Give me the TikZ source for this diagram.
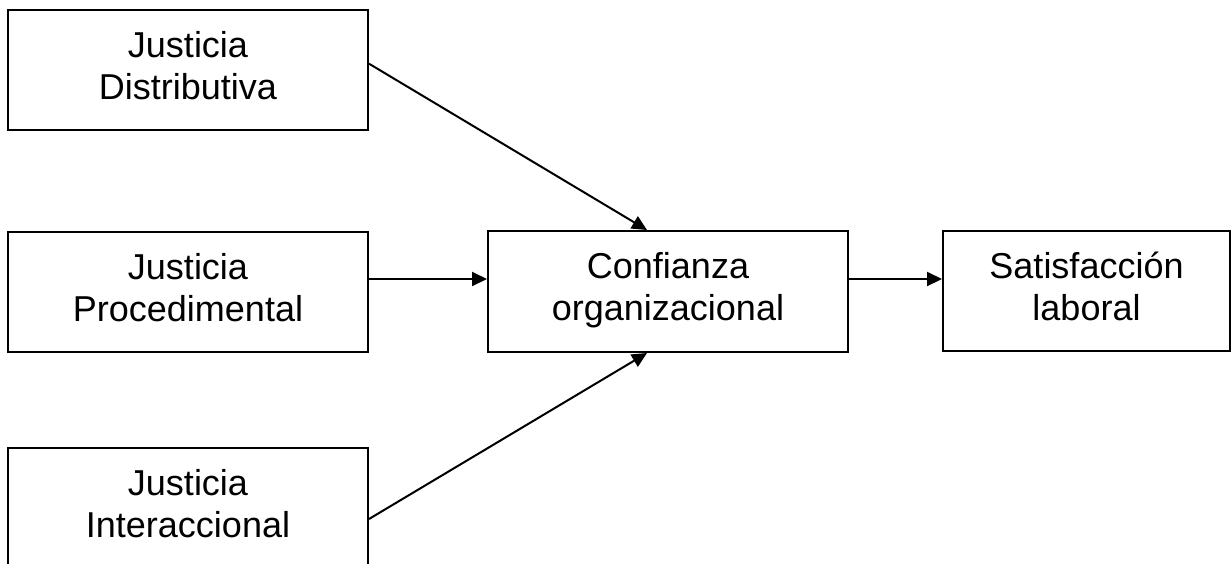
\documentclass[tikz,border=0pt]{standalone}
\usepackage{fontspec}
\setmainfont{Liberation Sans}
\usetikzlibrary{arrows.meta}
\tikzset{caja/.style={draw, line width=2pt, minimum width=360pt, minimum height=120pt, inner sep=0pt, align=center, text depth=10pt, font=\fontsize{36}{42}\selectfont},
  flecha/.style={->, line width=2pt}}
\begin{document}
\begin{tikzpicture}[x=1pt,y=-1pt,>={Triangle[length=15pt,width=14pt]}]
\clip (0,0) rectangle (1231,563);
\node[caja] (dist) at (188,70) {Justicia\\Distributiva};
\node[caja] (proc) at (188,292) {Justicia\\Procedimental};
\node[caja] (inter) at (188,508) {Justicia\\Interaccional};
\node[caja, minimum height=121pt] (conf) at (668,291.5) {Confianza\\organizacional};
\node[caja, minimum width=287pt] (sat) at (1086.5,291) {Satisfacción\\laboral};
\draw[flecha] (dist.2.5) -- ([xshift=-21pt]conf.north);
\draw[flecha] ([yshift=13pt]proc.east) -- ([yshift=12.5pt]conf.west);
\draw[flecha] ([yshift=-11pt]inter.east) -- ([xshift=-21pt]conf.south);
\draw[flecha] ([yshift=12.5pt]conf.east) -- ([yshift=12pt]sat.west);
\end{tikzpicture}
\end{document}
